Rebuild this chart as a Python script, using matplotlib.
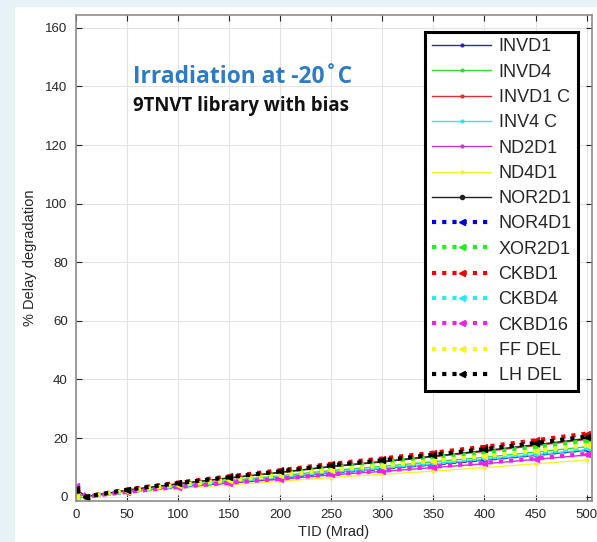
import matplotlib.pyplot as plt
from matplotlib.patches import Rectangle

# TID sample points (Mrad)
tid = [0, 10, 50, 100, 150, 200, 250, 300, 350, 400, 450, 500]

# % delay degradation per cell
invd1 = [0.0, 0, 1.8, 3.5, 5.1, 6.6, 8.2, 9.6, 11.0, 12.5, 14.1, 15.8]
invd4 = [0.0, 0, 1.9, 3.8, 5.5, 7.1, 8.9, 10.3, 11.9, 13.4, 15.2, 17.0]
invd1_c = [0.5, 0, 2.2, 4.3, 6.3, 8.2, 10.2, 11.8, 13.6, 15.4, 17.4, 19.5]
inv4_c = [0.0, 0, 1.8, 3.6, 5.1, 6.7, 8.3, 9.7, 11.2, 12.7, 14.3, 16.0]
nd2d1 = [1.0, 0, 1.6, 3.2, 4.6, 5.9, 7.4, 8.6, 9.9, 11.2, 12.7, 14.2]
nd4d1 = [0.0, 0, 1.4, 2.8, 4.0, 5.2, 6.5, 7.6, 8.7, 9.9, 11.2, 12.5]
nor2d1 = [2.5, 0, 2.2, 4.4, 6.4, 8.3, 10.3, 12.0, 13.8, 15.7, 17.7, 19.8]
nor4d1 = [0.0, 0, 1.8, 3.6, 5.2, 6.8, 8.4, 9.8, 11.3, 12.8, 14.5, 16.2]
xor2d1 = [0.0, 0, 2.1, 4.2, 6.1, 8.0, 9.9, 11.5, 13.3, 15.0, 17.0, 19.0]
ckbd1 = [1.5, 0, 2.4, 4.8, 6.9, 9.0, 11.2, 13.0, 15.0, 17.0, 19.2, 21.5]
ckbd4 = [0.0, 0, 1.8, 3.7, 5.3, 6.9, 8.6, 10.0, 11.5, 13.1, 14.7, 16.5]
ckbd16 = [3.5, 0, 1.6, 3.3, 4.7, 6.1, 7.6, 8.8, 10.2, 11.5, 13.0, 14.6]
ff_del = [0.0, 0, 2.0, 3.9, 5.6, 7.3, 9.1, 10.6, 12.2, 13.8, 15.6, 17.5]
lh_del = [2.5, 0, 2.3, 4.6, 6.6, 8.6, 10.7, 12.4, 14.3, 16.2, 18.3, 20.5]

solid_series = [
    (invd1, 'INVD1', '#2b2b9e'),
    (invd4, 'INVD4', '#33dd33'),
    (invd1_c, 'INVD1 C', '#e03030'),
    (inv4_c, 'INV4 C', '#33e6e6'),
    (nd2d1, 'ND2D1', '#cc33cc'),
    (nd4d1, 'ND4D1', '#f2f233'),
    (nor2d1, 'NOR2D1', '#222222'),
]
dotted_series = [
    (nor4d1, 'NOR4D1', '#0000dd'),
    (xor2d1, 'XOR2D1', '#22ee22'),
    (ckbd1, 'CKBD1', '#ee0000'),
    (ckbd4, 'CKBD4', '#22eeee'),
    (ckbd16, 'CKBD16', '#ee22ee'),
    (ff_del, 'FF DEL', '#f5f522'),
    (lh_del, 'LH DEL', '#000000'),
]

plt.rcParams['font.family'] = ['Liberation Sans', 'DejaVu Sans']

fig = plt.figure(figsize=(5.97, 5.42), dpi=100)
fig.patch.set_facecolor('white')
# screenshot background strips
fig.patches.append(Rectangle((0, 0), 14 / 597, 1, transform=fig.transFigure,
                             color='#e6f2f6', zorder=-10))
fig.patches.append(Rectangle((0, 1 - 6 / 542), 1, 6 / 542, transform=fig.transFigure,
                             color='#e6f2f6', zorder=-10))

ax = fig.add_axes([0.1273, 0.0762, 0.9911 - 0.1273, 0.9723 - 0.0762])

for y, label, color in solid_series:
    mk = 'o' if label == 'NOR2D1' else '.'
    ax.plot(tid, y, '-', color=color, lw=1.0, marker=mk, ms=3 if mk == 'o' else 4,
            label=label)

for y, label, color in dotted_series:
    ax.plot(tid, y, color=color, lw=3, linestyle=(0, (1.0, 1.45)),
            marker='<', ms=5, label=label)

ax.set_xlim(0, 505)
ax.set_ylim(-1.4, 164.4)
ax.set_xticks(range(0, 501, 50))
ax.set_yticks(range(0, 161, 20))
ax.grid(True, color='#e3e3e3', lw=0.8)
ax.set_axisbelow(True)
ax.tick_params(direction='in', top=True, right=True, labelsize=9.5,
               colors='#262626', length=4, width=0.8, pad=6)
for sp in ax.spines.values():
    sp.set_color('#8c8c8c')
    sp.set_linewidth(1.2)

ax.set_xlabel('TID (Mrad)', fontsize=10.5, color='#262626', labelpad=3)
ax.set_ylabel('% Delay degradation', fontsize=10.5, color='#262626', labelpad=6)

fig.text(133 / 597, 1 - 83 / 542, 'Irradiation at -20˚C', color='#2e7bc4',
         fontsize=16.4, fontweight='bold', family=['Open Sans', 'DejaVu Sans'],
         va='baseline')
fig.text(133 / 597, 1 - 111 / 542, '9TNVT library with bias', color='#111111',
         fontsize=13.4, fontweight='bold', family=['Open Sans', 'DejaVu Sans'],
         va='baseline')

leg = ax.legend(loc='upper right', bbox_to_anchor=(578 / 597, 1 - 32 / 542),
                bbox_transform=fig.transFigure, fontsize=13, handlelength=3.3,
                labelspacing=0.46, handletextpad=0.4, borderpad=0.35,
                fancybox=False, framealpha=1, borderaxespad=0)
leg.get_frame().set_edgecolor('black')
leg.get_frame().set_linewidth(2.2)
for t in leg.get_texts():
    t.set_color('#262626')

fig.savefig('out.png', dpi=100)
